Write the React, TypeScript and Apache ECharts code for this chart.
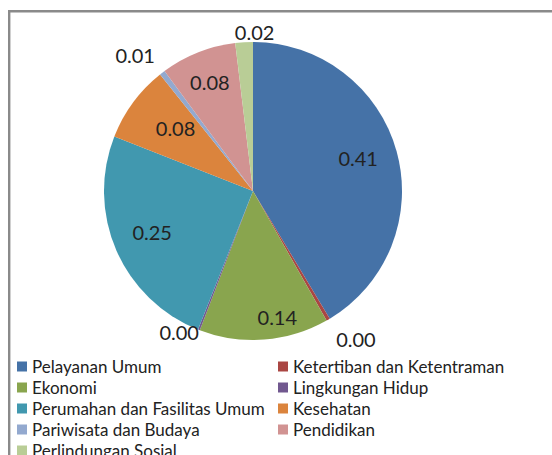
import React, { useEffect, useRef } from "react";
import * as echarts from "echarts";

const categories = [
  "Pelayanan Umum",
  "Ketertiban dan Ketentraman",
  "Ekonomi",
  "Lingkungan Hidup",
  "Perumahan dan Fasilitas Umum",
  "Kesehatan",
  "Pariwisata dan Budaya",
  "Pendidikan",
  "Perlindungan Sosial",
];
const values = [0.413, 0.004, 0.14, 0.002, 0.249, 0.083, 0.006, 0.082, 0.019];
const colors = [
  "#4572A7",
  "#AA4643",
  "#89A54E",
  "#71588F",
  "#4198AF",
  "#DB843D",
  "#93A9CF",
  "#D19392",
  "#B9CD96",
];
// label placement relative to each slice: radial factor and angular nudge (deg)
const labelRadius = [0.74, 1.21, 0.86, 1.07, 0.73, 0.67, 1.21, 0.785, 1.07];
const labelShift = [-2, -4.5, -6.6, 6.3, 1.4, 2.7, -3.3, 0, 4];

const CX = 253;
const CY = 191;
const R = 149;
const FONT = "Lato, 'Open Sans', sans-serif";

export default function App() {
  const ref = useRef<HTMLDivElement>(null);
  useEffect(() => {
    if (!ref.current) return;
    const chart = echarts.init(ref.current, undefined, { renderer: "svg" });
    const total = values.reduce((a, b) => a + b, 0);
    const mids: number[] = [];
    let acc = 0;
    values.forEach((v) => {
      const a = (v / total) * 360;
      mids.push(acc + a / 2);
      acc += a;
    });
    const col1 = categories.filter((_, i) => i % 2 === 0);
    const col2 = categories.filter((_, i) => i % 2 === 1);
    const legendBase = {
      orient: "vertical",
      top: 358,
      height: 200,
      padding: 0,
      itemWidth: 10,
      itemHeight: 10,
      itemGap: 4,
      icon: "rect",
      textStyle: { fontFamily: FONT, fontSize: 17, color: "#222" },
    };
    chart.setOption({
      animation: false,
      color: colors,
      textStyle: { fontFamily: FONT },
      graphic: [
        {
          type: "rect",
          shape: { x: 9.2, y: 11.2, width: 700, height: 700 },
          style: { fill: "none", stroke: "#8a8a8a", lineWidth: 2.4 },
          silent: true,
        },
      ],
      legend: [
        { ...legendBase, left: 17, data: col1 },
        { ...legendBase, left: 278, data: col2 },
      ],
      series: [
        {
          type: "pie",
          center: [CX, CY],
          radius: [0, R],
          startAngle: 90,
          clockwise: true,
          avoidLabelOverlap: false,
          itemStyle: { borderWidth: 0 },
          label: {
            show: true,
            position: "inside",
            fontFamily: FONT,
            fontSize: 20,
            color: "#222",
            formatter: (p: any) => Number(p.value).toFixed(2),
          },
          labelLine: { show: false },
          labelLayout: (params: any) => {
            const i = params.dataIndex;
            const ang = ((mids[i] + labelShift[i]) * Math.PI) / 180;
            const d = labelRadius[i] * R;
            return {
              x: CX + d * Math.sin(ang),
              y: CY - d * Math.cos(ang),
              align: "center",
              verticalAlign: "middle",
            };
          },
          data: categories.map((name, i) => ({ name, value: values[i] })),
        },
      ],
    } as any);
    return () => chart.dispose();
  }, []);
  return (
    <div
      ref={ref}
      style={{ position: "absolute", left: 0, top: 0, width: 552, height: 455, background: "#fff" }}
    />
  );
}
